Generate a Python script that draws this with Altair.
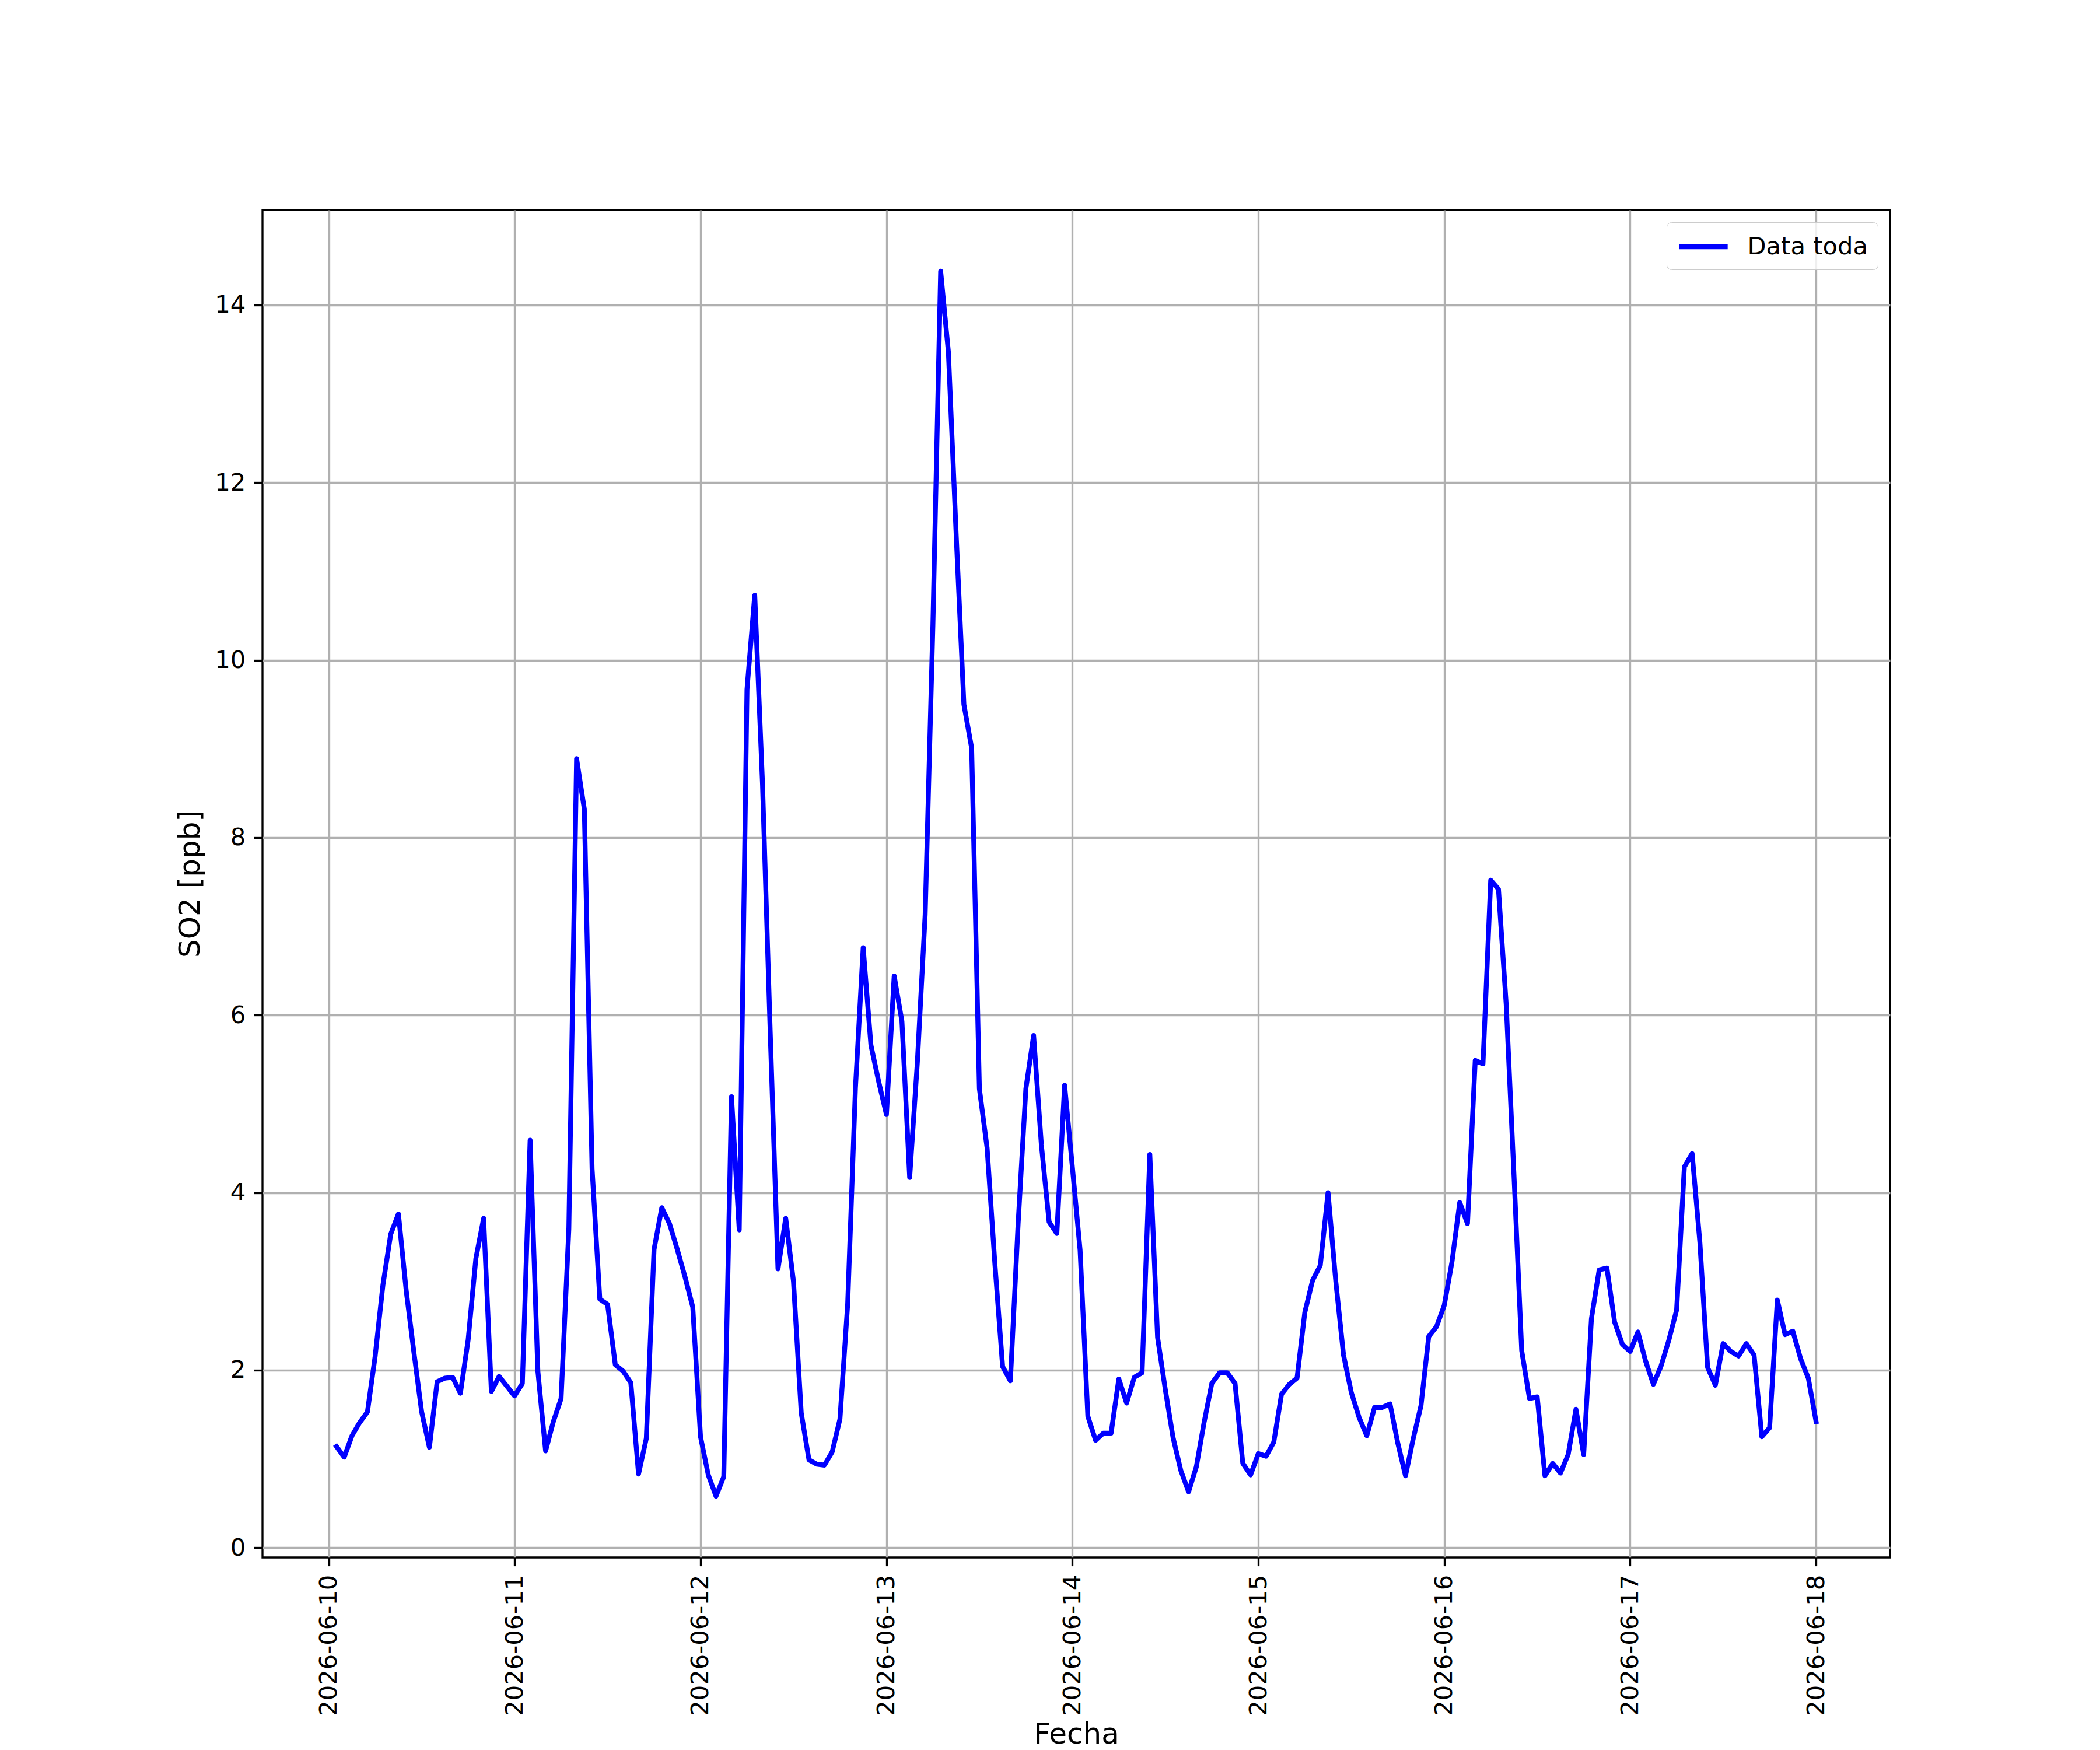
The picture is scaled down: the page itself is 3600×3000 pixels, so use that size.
import altair as alt
import pandas as pd

# Hourly SO2 readings, one list per day (01:00 of 06-10 through 00:00 of 06-18)
dia_10 = [1.14, 1.02, 1.26, 1.41, 1.53, 2.16, 2.96, 3.53, 3.76, 2.90, 2.20, 1.53,
          1.13, 1.87, 1.91, 1.92, 1.74, 2.34, 3.26, 3.71, 1.76, 1.93, 1.82, 1.71]
dia_11 = [1.85, 4.59, 1.99, 1.09, 1.42, 1.68, 3.59, 8.89, 8.32, 4.27, 2.80, 2.74,
          2.06, 1.99, 1.86, 0.83, 1.23, 3.36, 3.83, 3.65, 3.36, 3.05, 2.71, 1.25]
dia_12 = [0.82, 0.58, 0.80, 5.08, 3.58, 9.67, 10.73, 8.61, 5.80, 3.14, 3.71, 3.00,
          1.52, 0.99, 0.94, 0.93, 1.08, 1.45, 2.75, 5.18, 6.76, 5.66, 5.25, 4.88]
dia_13 = [6.44, 5.93, 4.17, 5.48, 7.13, 10.40, 14.38, 13.47, 11.42, 9.50, 9.01, 5.17,
          4.50, 3.20, 2.04, 1.88, 3.65, 5.17, 5.77, 4.54, 3.67, 3.54, 5.21, 4.29]
dia_14 = [3.35, 1.48, 1.21, 1.29, 1.29, 1.90, 1.63, 1.92, 1.97, 4.43, 2.37, 1.78,
          1.24, 0.87, 0.63, 0.91, 1.41, 1.85, 1.97, 1.97, 1.85, 0.95, 0.82, 1.06]
dia_15 = [1.03, 1.19, 1.73, 1.84, 1.91, 2.65, 3.01, 3.18, 4.00, 3.00, 2.17, 1.75,
          1.47, 1.26, 1.58, 1.58, 1.62, 1.18, 0.81, 1.23, 1.60, 2.38, 2.49, 2.73]
dia_16 = [3.22, 3.89, 3.65, 5.49, 5.45, 7.52, 7.42, 6.12, 4.20, 2.22, 1.68, 1.70,
          0.81, 0.95, 0.84, 1.05, 1.56, 1.05, 2.58, 3.13, 3.15, 2.54, 2.29, 2.21]
dia_17 = [2.43, 2.10, 1.84, 2.05, 2.34, 2.68, 4.29, 4.44, 3.44, 2.03, 1.83, 2.30,
          2.21, 2.16, 2.30, 2.17, 1.25, 1.35, 2.79, 2.40, 2.44, 2.13, 1.91, 1.42]

serie = "Data toda"
tick_days = [10, 11, 12, 13, 14, 15, 16, 17, 18]
y_ticks = [0, 2, 4, 6, 8, 10, 12, 14]

valores = dia_10 + dia_11 + dia_12 + dia_13 + dia_14 + dia_15 + dia_16 + dia_17
fechas = pd.date_range("2026-06-10 01:00", periods=len(valores), freq="h")
df = pd.DataFrame({
    "Fecha": fechas.strftime("%Y-%m-%dT%H:%M:%S"),
    "SO2": valores,
    "serie": serie,
})

# matplotlib-like 5% margins
t0, t1 = fechas.min(), fechas.max()
tpad = (t1 - t0) * 0.05
d0, d1 = t0 - tpad, t1 + tpad


def to_dt(t):
    return alt.DateTime(year=t.year, month=t.month, date=t.day,
                        hours=t.hour, minutes=t.minute, seconds=t.second)


ymin, ymax = min(valores), max(valores)
ypad = (ymax - ymin) * 0.05

FONT = "DejaVu Sans"
PT = 300 / 72.0
FS = 10 * PT

chart = alt.Chart(df).mark_line(
    strokeWidth=2 * PT, strokeJoin="round", strokeCap="square"
).encode(
    x=alt.X(
        "Fecha:T",
        scale=alt.Scale(domain=[to_dt(d0), to_dt(d1)], nice=False),
        axis=alt.Axis(
            values=[alt.DateTime(year=2026, month=6, date=d) for d in tick_days],
            format="%Y-%m-%d",
            labelAngle=270,
            labelOverlap=False,
            labelFlush=False,
            labelLimit=0,
            title="Fecha",
            titleY=318,
            titleBaseline="alphabetic",
        ),
    ),
    y=alt.Y(
        "SO2:Q",
        scale=alt.Scale(domain=[ymin - ypad, ymax + ypad], nice=False, zero=False),
        axis=alt.Axis(values=y_ticks, title="SO2 [ppb]", labelFlush=False, labelLimit=0),
    ),
    color=alt.Color(
        "serie:N",
        scale=alt.Scale(domain=[serie], range=["#0000ff"]),
        legend=alt.Legend(
            title=None,
            orient="top-right",
            offset=0.5 * FS,
            padding=0.4 * FS,
            cornerRadius=8,
            strokeColor="#cccccc",
            fillColor="rgba(255,255,255,0.8)",
            symbolType="M-1,0L3,0",
            symbolStrokeWidth=2 * PT,
            symbolSize=FS * FS,
            labelOffset=0.8 * FS + 0.9 * FS,
            labelFontSize=FS,
            labelFont=FONT,
            labelColor="black",
            labelLimit=0,
        ),
    ),
).properties(
    width=2790,
    height=2310,
    padding={"left": 442, "top": 352, "right": 352, "bottom": 345},
    autosize=alt.AutoSizeParams(type="none"),
).configure_view(
    stroke="black",
    strokeWidth=0.8 * PT,
).configure_axis(
    grid=True,
    gridColor="#b0b0b0",
    gridWidth=0.8 * PT,
    domain=False,
    tickColor="black",
    tickWidth=0.8 * PT,
    tickSize=3.5 * PT,
    labelPadding=3.5 * PT,
    labelFont=FONT,
    labelFontSize=FS,
    labelColor="black",
    titleFont=FONT,
    titleFontSize=12 * PT,
    titleFontWeight="normal",
    titleColor="black",
    titlePadding=4 * PT,
)

chart.save("out.html", embed_options={"renderer": "svg", "actions": False})
